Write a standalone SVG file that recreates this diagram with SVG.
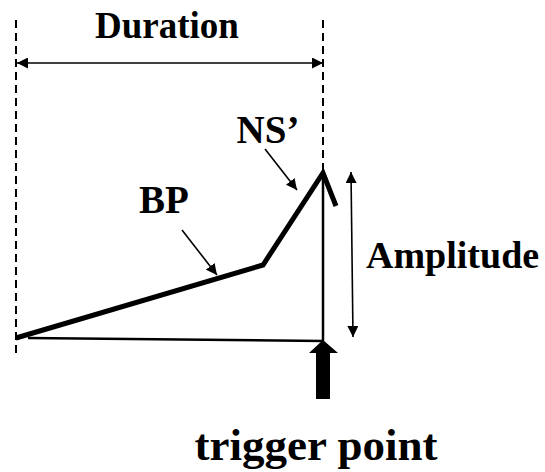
<svg xmlns="http://www.w3.org/2000/svg" width="545" height="472" viewBox="0 0 545 472">
<style>
text{font-family:"Liberation Serif","Times New Roman",serif;font-weight:bold;fill:#000}
.dash{stroke:#000;stroke-width:2;stroke-dasharray:8 5;fill:none}
.thin{stroke:#000;stroke-width:1.6;fill:none}
.wave{stroke:#000;stroke-width:5;fill:none;stroke-linejoin:miter}
</style>
<defs>
<marker id="ah2" viewBox="0 0 10 10" refX="10" refY="5" markerWidth="11" markerHeight="11" markerUnits="userSpaceOnUse" orient="auto-start-reverse">
<path d="M0,0 L10,5 L0,10 Z" fill="#000"/>
</marker>
</defs>
<rect width="545" height="472" fill="#fff"/>
<g id="guides">
<line class="dash" x1="16" y1="20" x2="16" y2="358"/>
<line class="dash" x1="323" y1="20" x2="323" y2="170"/>
</g>
<g id="duration">
<line class="thin" x1="17" y1="63" x2="323" y2="63" marker-start="url(#ah2)" marker-end="url(#ah2)"/>
<text x="167" y="38" font-size="37" text-anchor="middle">Duration</text>
</g>
<g id="waveform">
<polyline class="wave" points="16,338 263,265 323,173 336,206"/>
<line stroke="#000" stroke-width="2.5" x1="323" y1="173" x2="323" y2="341"/>
<line stroke="#000" stroke-width="2.5" x1="28" y1="338" x2="323" y2="341"/>
</g>
<g id="labels">
<text x="164" y="213" font-size="39" text-anchor="middle">BP</text>
<text x="268" y="143" font-size="39" text-anchor="middle">NS’</text>
<text x="366" y="268" font-size="38">Amplitude</text>
<text x="316" y="460" font-size="45" text-anchor="middle">trigger point</text>
</g>
<g id="connectors">
<line class="thin" x1="182" y1="230" x2="217" y2="275" marker-end="url(#ah2)"/>
<line class="thin" x1="265" y1="149" x2="297" y2="190" marker-end="url(#ah2)"/>
<line class="thin" x1="351" y1="172" x2="353" y2="337" marker-start="url(#ah2)" marker-end="url(#ah2)"/>
</g>
<g id="trigger">
<path d="M323,340 L338,353 L330,353 L330,399 L316,399 L316,353 L309,353 Z" fill="#000"/>
</g>
</svg>
